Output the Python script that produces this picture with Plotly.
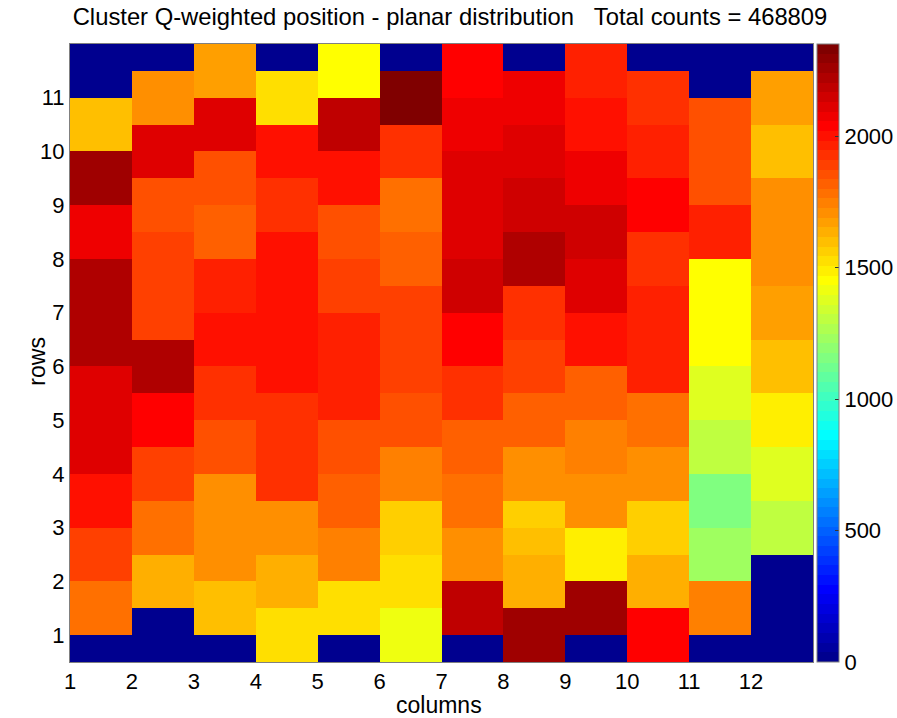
import plotly.graph_objects as go

# ---------------- data ----------------
col_centers = [1.5, 2.5, 3.5, 4.5, 5.5, 6.5, 7.5, 8.5, 9.5, 10.5, 11.5, 12.5]
row_centers = [11.75, 11.25, 10.75, 10.25, 9.75, 9.25, 8.75, 8.25, 7.75, 7.25, 6.75, 6.25,
               5.75, 5.25, 4.75, 4.25, 3.75, 3.25, 2.75, 2.25, 1.75, 1.25, 0.75]
x_ticks = [1, 2, 3, 4, 5, 6, 7, 8, 9, 10, 11, 12]
y_ticks = [1, 2, 3, 4, 5, 6, 7, 8, 9, 10, 11]

# counts, one list per row, from the top row (11.75) down to the bottom row (0.75)
counts = [
    [0, 0, 1671, 0, 1450, 0, 2038, 0, 1964, 0, 0, 0],
    [0, 1707, 1671, 1524, 1450, 2332, 2038, 2075, 1964, 1928, 0, 1671],
    [1597, 1707, 2111, 1524, 2185, 2332, 2075, 2075, 2001, 1928, 1854, 1671],
    [1597, 2111, 2111, 2001, 2185, 1928, 2075, 2111, 2001, 1964, 1854, 1597],
    [2258, 2111, 1854, 2001, 2001, 1928, 2111, 2111, 2075, 1964, 1854, 1597],
    [2258, 1854, 1854, 1928, 2001, 1781, 2111, 2148, 2075, 2038, 1854, 1707],
    [2075, 1854, 1818, 1928, 1854, 1781, 2111, 2148, 2148, 2038, 1964, 1707],
    [2075, 1891, 1818, 2001, 1854, 1818, 2111, 2221, 2148, 1928, 1964, 1707],
    [2221, 1891, 1964, 2001, 1891, 1818, 2148, 2221, 2111, 1928, 1450, 1707],
    [2221, 1891, 1964, 2001, 1891, 1891, 2148, 1928, 2111, 1964, 1450, 1671],
    [2221, 1891, 2001, 2001, 1964, 1891, 2038, 1928, 2001, 1964, 1450, 1671],
    [2221, 2221, 2001, 2001, 1964, 1891, 2038, 1891, 2001, 1964, 1450, 1597],
    [2111, 2221, 1928, 2001, 1964, 1891, 1928, 1891, 1818, 1964, 1377, 1597],
    [2111, 2038, 1928, 1928, 1964, 1854, 1928, 1818, 1818, 1781, 1377, 1487],
    [2111, 2038, 1854, 1928, 1854, 1854, 1818, 1818, 1744, 1781, 1303, 1487],
    [2111, 1891, 1854, 1928, 1854, 1744, 1818, 1707, 1744, 1707, 1303, 1377],
    [2001, 1891, 1707, 1928, 1818, 1744, 1781, 1707, 1707, 1707, 1157, 1377],
    [2001, 1781, 1707, 1707, 1818, 1561, 1781, 1561, 1707, 1561, 1157, 1303],
    [1891, 1781, 1707, 1707, 1744, 1561, 1707, 1597, 1487, 1561, 1230, 1303],
    [1891, 1634, 1707, 1634, 1744, 1524, 1707, 1634, 1487, 1634, 1230, 0],
    [1781, 1634, 1597, 1634, 1524, 1524, 2185, 1634, 2258, 1634, 1744, 0],
    [1781, 0, 1597, 1524, 1524, 1414, 2185, 2258, 2258, 2038, 1744, 0],
    [0, 0, 0, 1524, 0, 1414, 0, 2258, 0, 2038, 0, 0],
]
cbar_ticks = [0, 500, 1000, 1500, 2000]
z_max = 2350
title_text = ("Cluster Q-weighted position - planar distribution"
              "\u00a0\u00a0\u00a0Total counts = 468809")
x_label = "columns"
y_label = "rows"


# ---------------- MATLAB jet(64) colormap ----------------
def jet64():
    out = []
    for k in range(1, 65):
        if k < 25:
            r = 0
        elif k <= 40:
            r = (k - 24) / 16
        elif k <= 55:
            r = 1
        else:
            r = (72 - k) / 16
        if k < 9:
            g = 0
        elif k <= 24:
            g = (k - 8) / 16
        elif k <= 39:
            g = 1
        elif k <= 55:
            g = (56 - k) / 16
        else:
            g = 0
        if k <= 8:
            b = (k + 8) / 16
        elif k <= 23:
            b = 1
        elif k <= 39:
            b = (40 - k) / 16
        else:
            b = 0
        out.append(f"rgb({round(r*255)},{round(g*255)},{round(b*255)})")
    return out


jet = jet64()
colorscale = []
for i, c in enumerate(jet):
    colorscale.append([i / 64, c])
    colorscale.append([(i + 1) / 64, c])

FONT = "Liberation Sans, Arial, Helvetica, sans-serif"

fig = go.Figure(
    go.Heatmap(
        x=col_centers,
        y=row_centers[::-1],
        z=counts[::-1],
        zmin=0,
        zmax=z_max,
        colorscale=colorscale,
        showscale=True,
        colorbar=dict(
            x=1.0054, xanchor="left", xpad=0,
            y=0, yanchor="bottom", ypad=0,
            len=1, lenmode="fraction",
            thickness=22, thicknessmode="pixels",
            outlinewidth=1, outlinecolor="#808080",
            tickvals=cbar_ticks,
            ticks="inside", ticklen=4, tickcolor="#333333",
            tickfont=dict(size=22, family=FONT, color="black"),
        ),
        hoverongaps=False,
    )
)

axis_common = dict(
    showgrid=False, zeroline=False, showline=True, mirror=True,
    linecolor="#808080", linewidth=1, ticks="", automargin=False,
    tickfont=dict(size=22, family=FONT, color="black"),
)

fig.update_layout(
    width=897, height=718,
    margin=dict(l=70, r=84, t=44, b=56, autoexpand=False),
    paper_bgcolor="white", plot_bgcolor="white",
    font=dict(family=FONT, color="black"),
    title=dict(
        text=title_text,
        x=450 / 897, xref="container", xanchor="center",
        y=1 - 17 / 718, yref="container", yanchor="middle",
        font=dict(size=23.8, family=FONT, color="black"),
    ),
    xaxis=dict(range=[1, 13], tickvals=x_ticks, **axis_common),
    yaxis=dict(range=[0.5, 12], tickvals=y_ticks, **axis_common),
    annotations=[
        dict(text=x_label, xref="paper", yref="paper", x=0.496, y=-0.0696,
             xanchor="center", yanchor="middle", showarrow=False, borderpad=0,
             font=dict(size=23, family=FONT, color="black")),
        dict(text=y_label, xref="paper", yref="paper", x=-0.0444, y=0.486,
             xanchor="center", yanchor="middle", showarrow=False, textangle=-90,
             borderpad=0, font=dict(size=23, family=FONT, color="black")),
    ],
)

# remove the default page margin so the figure fills the window exactly
page_fix = ("document.documentElement.style.overflow='hidden';"
            "document.body.style.margin='0';"
            "document.body.style.overflow='hidden';")

fig.write_html("out.html", post_script=page_fix,
               config={"displayModeBar": False, "staticPlot": True})
